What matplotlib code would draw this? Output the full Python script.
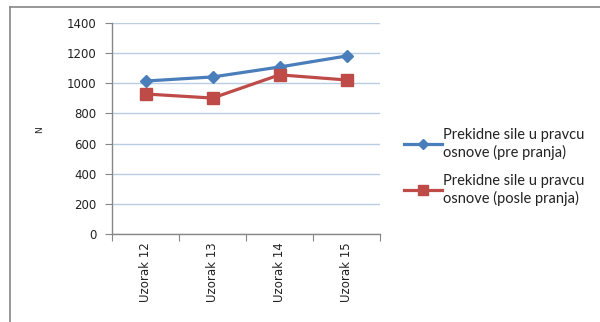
import matplotlib
matplotlib.use("Agg")
import matplotlib.pyplot as plt
from matplotlib.lines import Line2D

categories = ["Uzorak 12", "Uzorak 13", "Uzorak 14", "Uzorak 15"]
pre_pranja = [1015, 1042, 1108, 1181]
posle_pranja = [929, 902, 1056, 1022]
series_names = ["Prekidne sile u pravcu\nosnove (pre pranja)",
                "Prekidne sile u pravcu\nosnove (posle pranja)"]
y_ticks = [0, 200, 400, 600, 800, 1000, 1200, 1400]

W, H = 600, 322
fig = plt.figure(figsize=(W / 100, H / 100), dpi=100)
ax = fig.add_axes([112 / W, 1 - 234 / H, (380 - 112) / W, (234 - 23) / H])

x = list(range(len(categories)))
ax.plot(x, pre_pranja, color="#4A7EBB", lw=2.3, marker="D", ms=6,
        mec="#4A7EBB", mfc="#4A7EBB", label=series_names[0])
ax.plot(x, posle_pranja, color="#BE4B48", lw=2.3, marker="s", ms=9,
        mec="#BE4B48", mfc="#BE4B48", label=series_names[1])

ax.set_xlim(-0.5, len(categories) - 0.5)
ax.set_ylim(0, 1400)
ax.set_yticks(y_ticks)
ax.set_yticklabels([str(v) for v in y_ticks], fontsize=8.5, color="#222222")
ax.yaxis.grid(True, color="#B9CDE5", lw=1)
ax.set_axisbelow(True)

# category labels between boundary ticks
ax.set_xticks([i - 0.5 for i in range(len(categories) + 1)])
ax.set_xticklabels([])
ax.set_xticks(x, minor=True)
ax.set_xticklabels(categories, minor=True, rotation=90, fontsize=8.5,
                   color="#222222", va="top")
ax.tick_params(axis="x", which="minor", length=0, pad=6)
ax.tick_params(axis="x", which="major", length=5, color="#868686", direction="out")
ax.tick_params(axis="y", length=5, color="#868686", direction="out", pad=6)

for side in ["top", "right"]:
    ax.spines[side].set_visible(False)
for side in ["left", "bottom"]:
    ax.spines[side].set_color("#868686")
    ax.spines[side].set_linewidth(1)

fig.text(40 / W, 1 - 130 / H, "N", fontsize=6.5, rotation=90,
         ha="center", va="center", color="#222222")

leg = fig.legend(loc="upper left", bbox_to_anchor=(391 / W, 1 - 115 / H),
                 frameon=False, prop={"family": "Lato", "size": 10.5},
                 handlelength=2.6, handletextpad=0.1, labelspacing=1.0,
                 markerscale=0.85)
for t in leg.get_texts():
    t.set_color("#222222")

# outer frame of the chart area
fig.add_artist(Line2D([10 / W, 10 / W], [0, 1 - 7 / H], transform=fig.transFigure,
                      color="#868686", lw=1.2))
fig.add_artist(Line2D([10 / W, 1], [1 - 7 / H, 1 - 7 / H], transform=fig.transFigure,
                      color="#868686", lw=1.2))

fig.savefig("out.png", dpi=100)
